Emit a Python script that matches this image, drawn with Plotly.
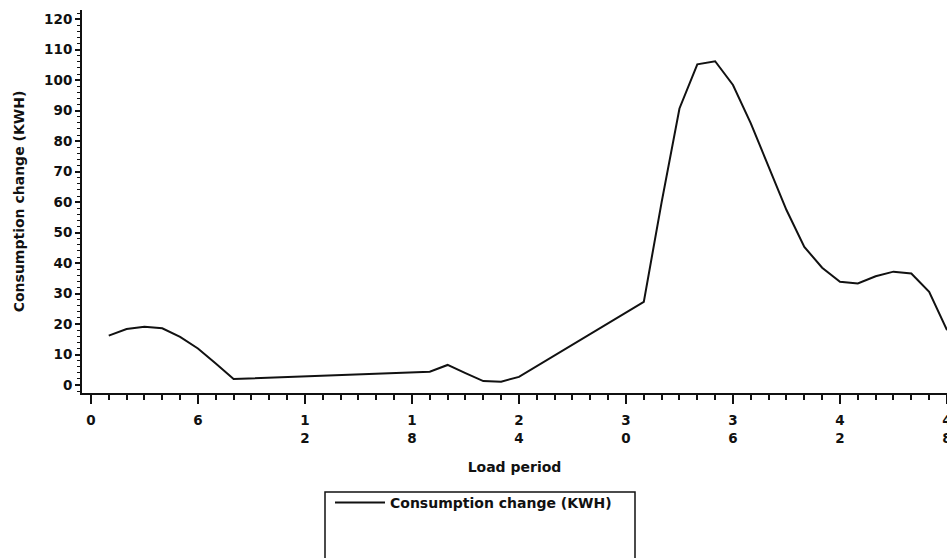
import plotly.graph_objects as go

# Load periods and consumption change (KWH)
periods = [1, 2, 3, 4, 5, 6, 7, 8,
           19, 20, 21, 22, 23, 24,
           31, 32, 33, 34, 35, 36, 37, 38, 39, 40,
           41, 42, 43, 44, 45, 46, 47, 48]
consumption = [16.2, 18.4, 19.1, 18.6, 15.8, 12.0, 7.1, 2.0,
               4.4, 6.6, 3.9, 1.3, 1.1, 2.7,
               27.3, 60.0, 90.7, 105.2, 106.2, 98.4, 85.8, 71.6, 57.4, 45.3,
               38.5, 33.9, 33.3, 35.7, 37.2, 36.6, 30.6, 18.0]

x_tickvals = [0, 6, 12, 18, 24, 30, 36, 42, 48]
x_ticktext = ["0", "6", "1<br>2", "1<br>8", "2<br>4", "3<br>0", "3<br>6", "4<br>2", "4<br>8"]
y_tickvals = [0, 10, 20, 30, 40, 50, 60, 70, 80, 90, 100, 110, 120]

W, H = 947, 558
ML, MR, MT, MB = 82, 0, 10, 165
PW = W - ML - MR
PH = H - MT - MB


def px_x(X):
    return (X - ML) / PW


def px_y(Y):
    return (H - MB - Y) / PH


FONT = "DejaVu Sans"
TICKSIZE = 13.5
TITLESIZE = 14

fig = go.Figure()
fig.add_trace(go.Scatter(
    x=periods, y=consumption, mode="lines",
    name="Consumption change (KWH)",
    line=dict(color="#111", width=2),
))

fig.update_layout(
    width=W, height=H,
    margin=dict(l=ML, r=MR, t=MT, b=MB),
    template="none",
    paper_bgcolor="white", plot_bgcolor="white",
    font=dict(family=FONT, size=12, color="#111", weight="bold"),
    showlegend=True,
    legend=dict(
        x=px_x(330), y=px_y(487), xanchor="left", yanchor="top",
        bgcolor="rgba(0,0,0,0)", borderwidth=0,
        font=dict(family=FONT, size=TITLESIZE, color="#111", weight="bold"),
        itemwidth=50,
    ),
    xaxis=dict(
        range=[-0.5, 48], showgrid=False, zeroline=False,
        showline=True, linecolor="#111", linewidth=2,
        tickmode="array", tickvals=x_tickvals, ticktext=x_ticktext,
        ticks="outside", ticklen=9, tickwidth=2, tickcolor="#111",
        ticklabelstandoff=5, ticklabeloverflow="allow",
        tickfont=dict(family=FONT, size=TICKSIZE, color="#111", weight="bold"),
        minor=dict(dtick=1, ticks="outside", ticklen=5, tickwidth=1.5, tickcolor="#111", showgrid=False),
        automargin=False,
        title=dict(text="Load period", font=dict(family=FONT, size=TITLESIZE, color="#111", weight="bold"), standoff=17),
    ),
    yaxis=dict(
        range=[-2.6, 123], showgrid=False, zeroline=False,
        showline=True, linecolor="#111", linewidth=2,
        tickmode="array", tickvals=y_tickvals,
        ticks="outside", ticklen=5, tickwidth=1.5, tickcolor="#111",
        tickfont=dict(family=FONT, size=TICKSIZE, color="#111", weight="bold"),
        minor=dict(dtick=2, ticks="outside", ticklen=3, tickwidth=1, tickcolor="#111", showgrid=False),
        automargin=False,
        title=dict(text="Consumption change (KWH)", font=dict(family=FONT, size=TITLESIZE, color="#111", weight="bold"), standoff=16),
    ),
    shapes=[dict(
        type="rect", xref="paper", yref="paper",
        x0=px_x(325), x1=px_x(635), y0=px_y(560), y1=px_y(492),
        line=dict(color="#111", width=1.5), fillcolor="rgba(0,0,0,0)",
    )],
)

fig.write_html("out.html")
